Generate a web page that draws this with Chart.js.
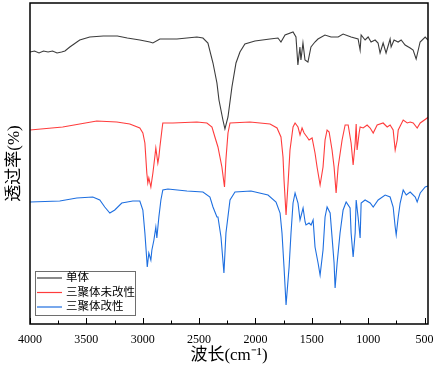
<!DOCTYPE html>
<html>
<head>
<meta charset="utf-8">
<script src="https://cdn.jsdelivr.net/npm/chart.js@4"></script>
<style>
  body { margin: 0; background: #fff; }
  canvas { display: block; }
</style>
</head>
<body>
<canvas id="ftirChart" width="436" height="369"></canvas>
<script>
// Series names
const seriesNames = ['单体', '三聚体未改性', '三聚体改性'];

// 单体 (monomer): wavenumber / stacked transmittance
const monomerX = [4000, 3960, 3920, 3880, 3840, 3800, 3760, 3720, 3690, 3647, 3559, 3470, 3350, 3225, 3137, 3026, 2937, 2910, 2848, 2697, 2520, 2466, 2422, 2377, 2342, 2324, 2289, 2271, 2244, 2209, 2173, 2138, 2094, 2005, 1872, 1801, 1774, 1738, 1667, 1641, 1624, 1606, 1597, 1579, 1561, 1535, 1508, 1473, 1446, 1384, 1330, 1267, 1223, 1152, 1090, 1072, 1063, 1028, 1001, 975, 939, 913, 895, 868, 842, 806, 797, 771, 735, 708, 673, 628, 602, 575, 540, 495, 470];
const monomerY = [272, 273, 271, 273, 272, 273, 271, 272, 273, 277, 284, 287, 288, 288, 286, 284, 282, 281, 285, 285, 287, 286, 281, 261, 241, 224, 204, 195, 207, 237, 261, 272, 280, 283, 285, 286, 282, 289, 292, 287, 259, 277, 264, 281, 264, 262, 277, 282, 285, 289, 287, 287, 290, 287, 285, 274, 289, 284, 287, 282, 284, 281, 271, 281, 271, 285, 277, 284, 282, 284, 279, 276, 274, 265, 282, 287, 284];

// 三聚体未改性 (unmodified trimer)
const trimerX = [4000, 3710, 3408, 3230, 3115, 3026, 2999, 2981, 2964, 2955, 2946, 2928, 2910, 2893, 2884, 2866, 2857, 2848, 2830, 2822, 2733, 2520, 2431, 2386, 2360, 2333, 2298, 2275, 2262, 2244, 2226, 2049, 1871, 1809, 1774, 1756, 1747, 1729, 1711, 1694, 1667, 1649, 1623, 1605, 1587, 1569, 1543, 1525, 1498, 1472, 1454, 1427, 1401, 1383, 1365, 1347, 1321, 1303, 1285, 1267, 1232, 1205, 1178, 1152, 1134, 1116, 1107, 1099, 1081, 1072, 1045, 1010, 983, 956, 921, 868, 832, 806, 779, 761, 743, 734, 690, 654, 628, 601, 566, 539, 477, 470];
const trimerY = [194, 197, 203, 202, 200, 196, 191, 181, 151, 141, 146, 137, 151, 167, 176, 161, 167, 177, 194, 201, 201, 202, 201, 197, 187, 177, 157, 137, 165, 191, 201, 202, 200, 196, 187, 167, 144, 109, 141, 174, 197, 201, 197, 189, 196, 191, 187, 184, 186, 171, 157, 139, 157, 184, 194, 192, 174, 157, 131, 157, 184, 199, 199, 181, 159, 181, 200, 174, 191, 197, 196, 199, 196, 191, 199, 201, 197, 199, 194, 174, 184, 194, 204, 201, 202, 201, 196, 201, 206, 207];

// 三聚体改性 (modified trimer)
const modifiedX = [4000, 3736, 3585, 3443, 3381, 3337, 3292, 3248, 3186, 3088, 3026, 2999, 2981, 2964, 2960, 2946, 2928, 2919, 2901, 2884, 2875, 2857, 2839, 2822, 2777, 2608, 2466, 2404, 2377, 2342, 2333, 2306, 2280, 2262, 2226, 2182, 2040, 1889, 1818, 1782, 1765, 1747, 1729, 1702, 1685, 1667, 1649, 1623, 1605, 1578, 1560, 1552, 1525, 1507, 1489, 1472, 1445, 1427, 1401, 1383, 1365, 1338, 1321, 1303, 1294, 1276, 1250, 1223, 1196, 1161, 1152, 1134, 1116, 1107, 1090, 1072, 1063, 1028, 983, 956, 912, 850, 806, 779, 761, 752, 734, 717, 690, 663, 628, 583, 566, 539, 495, 470];
const modifiedY = [122, 123, 126, 127, 124, 117, 111, 114, 121, 123, 123, 114, 91, 64, 57, 71, 64, 74, 84, 97, 86, 107, 124, 134, 135, 133, 132, 127, 117, 107, 107, 87, 51, 91, 124, 132, 133, 129, 122, 111, 91, 57, 19, 57, 91, 121, 131, 121, 104, 116, 102, 99, 101, 99, 104, 77, 61, 49, 74, 107, 117, 111, 87, 61, 36, 61, 91, 114, 122, 116, 91, 67, 91, 124, 107, 86, 121, 124, 121, 117, 124, 129, 127, 117, 97, 89, 107, 121, 134, 129, 132, 127, 122, 131, 137, 138];

// Axis
const xTickValues = [4000, 3500, 3000, 2500, 2000, 1500, 1000, 500];
const xMin = 470;
const xMax = 4000;

const seriesColors = ['#3c3c3c', '#ff3c3c', '#1e6fe0'];
const serifFont = '"Liberation Serif", "Times New Roman", "Noto Sans CJK SC", serif';

function toPoints(xs, ys) {
    return xs.map((x, i) => ({ x: x, y: ys[i] }));
}

// Frame, inward ticks and boxed legend inside the plot
const framePlugin = {
    id: 'frame',
    afterDraw(chart) {
        const ctx = chart.ctx;
        const area = chart.chartArea;
        const xs = chart.scales.x;
        ctx.save();
        ctx.strokeStyle = '#000';
        ctx.lineWidth = 1;
        for (let v = 500; v <= xMax; v += 250) {
            const px = Math.round(xs.getPixelForValue(v)) + 0.5;
            const len = v % 500 === 0 ? 6 : 3.5;
            ctx.beginPath();
            ctx.moveTo(px, area.bottom);
            ctx.lineTo(px, area.bottom - len);
            ctx.stroke();
        }
        ctx.lineWidth = 1.5;
        ctx.strokeRect(area.left, area.top, area.right - area.left, area.bottom - area.top);

        // legend
        const lx = 35.5, ly = 271.5, lw = 100, lh = 44;
        ctx.fillStyle = '#fff';
        ctx.fillRect(lx, ly, lw, lh);
        ctx.strokeStyle = '#6e6e6e';
        ctx.lineWidth = 1;
        ctx.strokeRect(lx, ly, lw, lh);
        ctx.font = '11.5px ' + serifFont;
        ctx.textBaseline = 'middle';
        chart.data.datasets.forEach((ds, i) => {
            const y = 278 + i * 14.5;
            ctx.strokeStyle = ds.borderColor;
            ctx.lineWidth = 1.2;
            ctx.beginPath();
            ctx.moveTo(37, y);
            ctx.lineTo(62, y);
            ctx.stroke();
            ctx.fillStyle = '#000';
            ctx.fillText(ds.label, 66, y);
        });
        ctx.restore();
    }
};

new Chart(document.getElementById('ftirChart'), {
    type: 'line',
    data: {
        datasets: [
            { label: seriesNames[0], data: toPoints(monomerX, monomerY), borderColor: seriesColors[0] },
            { label: seriesNames[1], data: toPoints(trimerX, trimerY), borderColor: seriesColors[1] },
            { label: seriesNames[2], data: toPoints(modifiedX, modifiedY), borderColor: seriesColors[2] }
        ]
    },
    options: {
        responsive: false,
        animation: false,
        devicePixelRatio: 1,
        layout: { padding: { top: 3, right: 8, left: 0, bottom: 0 } },
        elements: {
            line: { borderWidth: 1.1, tension: 0, fill: false },
            point: { radius: 0 }
        },
        plugins: {
            legend: { display: false },
            tooltip: { enabled: false }
        },
        scales: {
            x: {
                type: 'linear',
                reverse: true,
                min: xMin,
                max: xMax,
                grid: { display: false, drawTicks: false },
                border: { display: false },
                afterBuildTicks(scale) {
                    scale.ticks = xTickValues.map(v => ({ value: v }));
                },
                ticks: {
                    autoSkip: false,
                    maxRotation: 0,
                    padding: 9,
                    color: '#000',
                    font: { size: 12, family: serifFont },
                    callback: v => String(v)
                },
                title: {
                    display: true,
                    text: '波长(cm⁻¹)',
                    color: '#000',
                    font: { size: 17, family: serifFont },
                    padding: { top: 0, bottom: 3 }
                },
                afterFit(scale) {
                    scale.height = 45;
                    scale.paddingLeft = 0;
                    scale.paddingRight = 0;
                }
            },
            y: {
                min: 0,
                max: 321,
                grid: { display: false, drawTicks: false },
                border: { display: false },
                ticks: { display: false },
                title: {
                    display: true,
                    text: '透过率(%)',
                    color: '#000',
                    font: { size: 17, family: serifFont },
                    padding: { top: 4, bottom: 0 }
                },
                afterFit(scale) { scale.width = 30; }
            }
        }
    },
    plugins: [framePlugin]
});
</script>
</body>
</html>
